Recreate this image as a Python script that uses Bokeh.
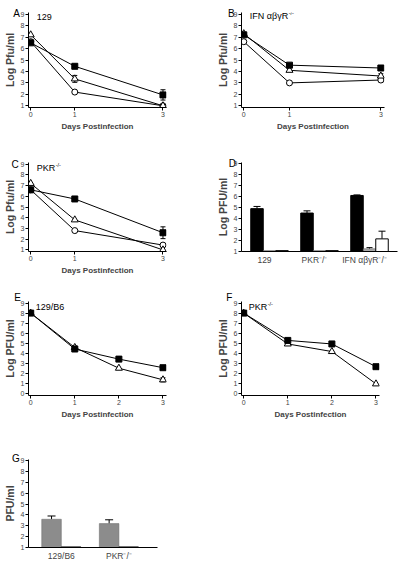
from bokeh.plotting import figure
from bokeh.models import Range1d, FixedTicker, Label, Whisker, ColumnDataSource, TeeHead
from bokeh.layouts import column, row
from bokeh.embed import file_html
from bokeh.resources import INLINE

FONT = "Liberation Sans"

# ---------------- data ----------------
days3 = [0, 1, 3]
days4 = [0, 1, 2, 3]

A_sq = [6.5, 4.45, 1.95]
A_sq_err = [0, 0, 0.45]
A_tri = [7.2, 3.35, 1.0]
A_tri_err = [0, 0.3, 0]
A_cir = [6.6, 2.2, 1.0]

B_sq = [7.2, 4.55, 4.3]
B_tri = [7.3, 4.1, 3.6]
B_tri_err = [0, 0, 0.2]
B_cir = [6.6, 3.0, 3.25]
B_cir_err = [0, 0.1, 0.15]

C_sq = [6.6, 5.75, 2.6]
C_sq_err = [0, 0, 0.55]
C_tri = [7.2, 3.8, 1.0]
C_cir = [6.6, 2.8, 1.45]
C_cir_err = [0, 0.1, 0]

D_groups = ["129", "PKR\u207b/\u207b", "IFN \u03b1\u03b2\u03b3R\u207b/\u207b"]
D_black = [4.9, 4.5, 6.1]
D_black_err = [0.2, 0.2, 0.05]
D_gray = [1.08, 1.08, 1.25]
D_gray_err = [0, 0, 0.1]
D_white = [1.08, 1.08, 2.15]
D_white_err = [0, 0, 0.7]

E_sq = [8.0, 4.45, 3.45, 2.6]
E_tri = [8.0, 4.6, 2.55, 1.4]
E_tri_err = [0, 0.15, 0, 0.2]

F_sq = [8.0, 5.3, 4.95, 2.7]
F_tri = [8.0, 4.95, 4.2, 1.0]

G_groups = ["129/B6", "PKR\u207b/\u207b"]
G_gray = [3.6, 3.2]
G_gray_err = [0.3, 0.35]
G_black = [1.05, 1.05]

ticks19 = [1, 2, 3, 4, 5, 6, 7, 8, 9]
ticks09 = [0, 1, 2, 3, 4, 5, 6, 7, 8, 9]

# ------------- helpers ---------------
W = {'1': 556, '2': 556, '9': 556, '/': 278, 'B': 667, '6': 556, 'P': 667, 'K': 667,
     'R': 722, 'I': 278, 'F': 611, 'N': 722, ' ': 278, '\u03b1': 580, '\u03b2': 575,
     '\u03b3': 500, '-': 333}


def tw(s, size):
    return sum(W.get(c, 556) for c in s) / 1000.0 * size


def make_fig(w, h, bl, br, bt, bb, xr, yr, yticks, xticks, ylabel, xlabel):
    p = figure(width=w, height=h, x_range=Range1d(*xr), y_range=Range1d(*yr),
               output_backend="svg", toolbar_location=None, min_border=0,
               min_border_left=bl, min_border_right=br, min_border_top=bt,
               min_border_bottom=bb)
    p.grid.visible = False
    p.outline_line_color = None
    p.yaxis.ticker = FixedTicker(ticks=yticks)
    p.xaxis.ticker = FixedTicker(ticks=xticks)
    for ax in p.axis:
        ax.axis_line_color = "black"
        ax.axis_line_width = 1
        ax.major_tick_line_color = "black"
        ax.major_tick_out = 3
        ax.major_tick_in = 0
        ax.minor_tick_out = 0
        ax.minor_tick_in = 0
        ax.major_label_text_font = FONT
        ax.major_label_text_font_size = "7px"
        ax.major_label_standoff = 1
        ax.axis_label_text_font = FONT
        ax.axis_label_text_font_style = "bold"
        ax.axis_label_standoff = 2
    p.yaxis.axis_label = ylabel
    p.yaxis.axis_label_text_font_size = "10.5px"
    p.xaxis.axis_label = xlabel
    p.xaxis.axis_label_text_font_size = "8px"
    return p


def txt(p, x, y, s, size, xo=0, yo=0, align="left"):
    p.add_layout(Label(x=x, y=y, text=s, x_offset=xo, y_offset=yo, text_font=FONT,
                       text_font_size=f"{size}px", text_align=align,
                       text_baseline="middle", text_color="black"))


def sup_txt(p, x, y, base, sup, size, xo, yo, align="left"):
    wb = tw(base, size)
    ws = tw(sup, size * 0.6)
    start = xo - (wb + ws) / 2 if align == "center" else xo
    txt(p, x, y, base, size, start, yo, "left")
    if sup:
        txt(p, x, y, sup, size * 0.6, start + wb + 0.5, yo + size * 0.35, "left")


def letter(p, s, offset, drop):
    # panel letter drawn as the figure title, pulled left of / down into the frame
    t = p.title
    t.text = s
    t.align = "left"
    t.vertical_align = "bottom"
    t.text_font = FONT
    t.text_font_size = "10px"
    t.text_font_style = "normal"
    t.text_color = "black"
    t.offset = offset
    try:
        t.standoff = -drop
    except ValueError:
        t.standoff = 0


def series(p, xs, ys, marker, filled, size):
    p.line(xs, ys, line_color="black", line_width=1)
    p.scatter(xs, ys, marker=marker, size=size, line_color="black", line_width=1,
              fill_color="black" if filled else "white")


def errs(p, xs, ys, es, head=5):
    xx = [x for x, e in zip(xs, es) if e > 0]
    lo = [y - e for y, e in zip(ys, es) if e > 0]
    hi = [y + e for y, e in zip(ys, es) if e > 0]
    if not xx:
        return
    src = ColumnDataSource(dict(base=xx, lower=lo, upper=hi))
    p.add_layout(Whisker(source=src, base="base", lower="lower", upper="upper",
                         line_color="black", line_width=1,
                         upper_head=TeeHead(size=head, line_color="black", line_width=1),
                         lower_head=TeeHead(size=head, line_color="black", line_width=1)))


def up_errs(p, xs, ys, es, head=7):
    xx = [x for x, e in zip(xs, es) if e > 0]
    lo = [y for y, e in zip(ys, es) if e > 0]
    hi = [y + e for y, e in zip(ys, es) if e > 0]
    if not xx:
        return
    src = ColumnDataSource(dict(base=xx, lower=lo, upper=hi))
    p.add_layout(Whisker(source=src, base="base", lower="lower", upper="upper",
                         line_color="black", line_width=1, lower_head=None,
                         upper_head=TeeHead(size=head, line_color="black", line_width=1)))


def cat_axis(p, ticks, names):
    p.xaxis.ticker = FixedTicker(ticks=ticks)
    p.xaxis.major_label_overrides = {t: n for t, n in zip(ticks, names)}
    p.xaxis.major_tick_out = 0
    p.xaxis.major_label_standoff = 3
    p.xaxis.major_label_text_font_size = "8.5px"


XL = "Days Postinfection"

# ---------------- A ----------------
pA = make_fig(208, 136, 27, 42, 12, 29, (-0.05, 3.08), (0.85, 9.15), ticks19, days3,
              "Log Pfu/ml", XL)
series(pA, days3, A_cir, "circle", False, 6)
series(pA, days3, A_tri, "triangle", False, 7)
series(pA, days3, A_sq, "square", True, 6)
errs(pA, days3, A_tri, A_tri_err)
errs(pA, days3, A_sq, A_sq_err)
letter(pA, "A", -15.3, 13)
sup_txt(pA, 0, 9, "129", "", 9, 6, -3)

# ---------------- B ----------------
pB = make_fig(192, 136, 33, 16, 12, 29, (-0.05, 3.08), (0.85, 9.15), ticks19, days3,
              "Log Pfu/ml", XL)
series(pB, days3, B_cir, "circle", False, 6)
series(pB, days3, B_tri, "triangle", False, 7)
series(pB, days3, B_sq, "square", True, 6)
errs(pB, days3, B_tri, B_tri_err)
errs(pB, days3, B_cir, B_cir_err)
letter(pB, "B", -13.5, 13.6)
sup_txt(pB, 0, 9, "IFN \u03b1\u03b2\u03b3R", "-/-", 9, 6, -2)

# ---------------- C ----------------
pC = make_fig(208, 146, 27, 42, 18, 31, (-0.05, 3.08), (0.85, 9.15), ticks19, days3,
              "Log Pfu/ml", XL)
series(pC, days3, C_cir, "circle", False, 6)
series(pC, days3, C_tri, "triangle", False, 7)
series(pC, days3, C_sq, "square", True, 6)
errs(pC, days3, C_sq, C_sq_err)
errs(pC, days3, C_cir, C_cir_err)
letter(pC, "C", -17, 14.4)
sup_txt(pC, 0, 9, "PKR", "-/-", 9, 6, -4)

# ---------------- D ----------------
gx = [0, 1, 2]
bw = 0.25
pD = make_fig(192, 146, 33, 3, 26, 25, (-0.56, 2.56), (1, 9.1), ticks19, [],
              "Log PFU/ml", "")
cat_axis(pD, [g - 0.1 for g in gx], D_groups)
xb = [g - bw for g in gx]
xw = [g + bw for g in gx]
pD.vbar(x=xb, top=D_black, bottom=1, width=bw, fill_color="black", line_color="black")
pD.vbar(x=gx, top=D_gray, bottom=1, width=bw, fill_color="#aaaaaa", line_color="#555555",
        line_width=0.5)
pD.vbar(x=xw, top=D_white, bottom=1, width=bw, fill_color="white", line_color="black")
up_errs(pD, xb, D_black, D_black_err, 7)
up_errs(pD, gx, D_gray, D_gray_err, 6)
up_errs(pD, xw, D_white, D_white_err, 7)
letter(pD, "D", -12.8, 12.4)

# ---------------- E ----------------
pE = make_fig(208, 148, 25, 42, 19, 35, (-0.05, 3.08), (-0.15, 9.15), ticks09, days4,
              "Log PFU/ml", XL)
series(pE, days4, E_tri, "triangle", False, 7)
series(pE, days4, E_sq, "square", True, 6)
errs(pE, days4, E_tri, E_tri_err)
letter(pE, "E", -14.3, 3)
sup_txt(pE, 0, 9, "129/B6", "", 9, 5, -4)

# ---------------- F ----------------
pF = make_fig(192, 148, 33, 21, 19, 35, (-0.05, 3.08), (-0.15, 9.15), ticks09, days4,
              "Log PFU/ml", XL)
series(pF, days4, F_tri, "triangle", False, 7)
series(pF, days4, F_sq, "square", True, 6)
letter(pF, "F", -15.3, 3)
sup_txt(pF, 0, 9, "PKR", "-/-", 9, 5, -4)

# ---------------- G ----------------
hx = [0, 1]
gw = 0.34
pG = make_fig(208, 135, 27, 51, 29, 18, (-0.57, 1.67), (1, 9.1), ticks19, [],
              "PFU/ml", "")
cat_axis(pG, hx, G_groups)
xg = [g - gw / 2 for g in hx]
xk = [g + gw / 2 for g in hx]
pG.vbar(x=xg, top=G_gray, bottom=1, width=gw, fill_color="#8c8c8c", line_color="#666666",
        line_width=0.5)
pG.vbar(x=xk, top=G_black, bottom=1, width=gw, fill_color="black", line_color="black")
up_errs(pG, xg, G_gray, G_gray_err, 8)
letter(pG, "G", -16.5, 9)

layout = column(row(pA, pB), row(pC, pD), row(pE, pF), row(pG))
open("out.html", "w").write(file_html(layout, INLINE))
